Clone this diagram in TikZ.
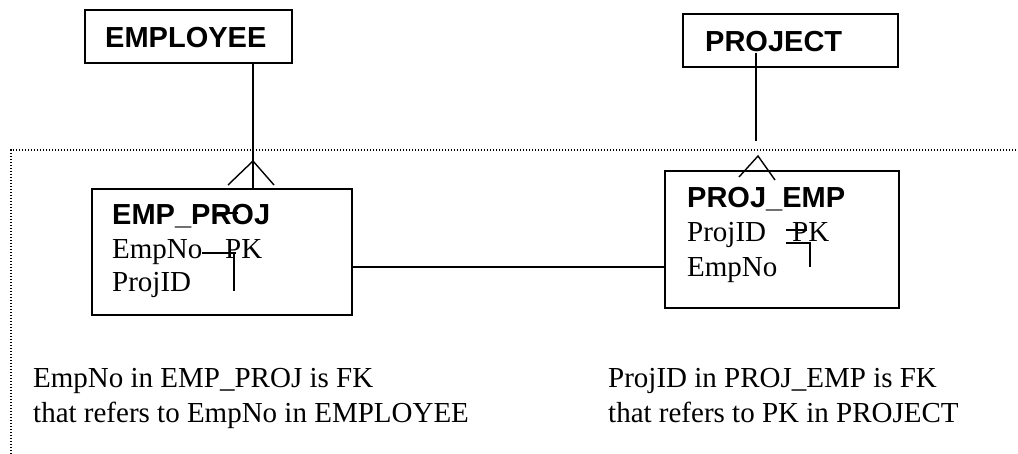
\documentclass[tikz,border=0pt]{standalone}
\usepackage{fontspec}
\setmainfont{Liberation Serif}
\setsansfont{Liberation Sans}
\begin{document}
\begin{tikzpicture}[x=1pt,y=-1pt,
  box/.style={draw,line width=1.8pt,rectangle,inner sep=0pt},
  line/.style={line width=1.4pt},
  frame/.style={line width=1.1pt,dash pattern=on 1.2pt off 1.8pt},
  title/.style={anchor=base west,inner sep=0pt,font=\fontsize{29}{34}\selectfont\sffamily\bfseries},
  attr/.style={anchor=base west,inner sep=0pt,font=\fontsize{29}{34}\selectfont}]
\useasboundingbox (0,0) rectangle (1018,454);
% dotted frame
\draw[frame] (11,454) -- (11,150) -- (1018,150);
% boxes
\node[box,minimum width=207pt,minimum height=53pt] (emp) at (188.5,36.5) {};
\node[box,minimum width=215pt,minimum height=53pt] (proj) at (790.5,40.5) {};
\node[box,minimum width=260pt,minimum height=126pt] (ep) at (222,252) {};
\node[box,minimum width=234pt,minimum height=137pt] (pe) at (782,239.5) {};
% titles
\node[title] (tEmp) at (105,48) {EMPLOYEE};
\node[title] (tProj) at (705,52) {PROJECT};
\node[title] (tEP) at (112,225) {EMP\_PROJ};
\node[title] (tPE) at (687,208) {PROJ\_EMP};
% attributes
\node[attr] (a1) at (112,259) {EmpNo};
\node[attr] (a1pk) at (225,259) {PK};
\node[attr] (a2) at (112,292) {ProjID};
\node[attr] (b1) at (687,242) {ProjID};
\node[attr] (b1pk) at (792,242) {PK};
\node[attr] (b2) at (687,277) {EmpNo};
% stray stroke and PK marks
\draw[line] (217,213) -- (238,213);
\draw[line] (202,253) -- (236,253);
\draw[line] (234,253) -- (234,291);
\draw[line] (786,230) -- (807,230);
\draw[line] (786,243) -- (810,243) -- (810,267);
% EMPLOYEE -- EMP_PROJ (crow's foot)
\draw[line] (emp.south -| 253,0) -- (ep.north -| 253,0);
\coordinate (cfA) at (253,161);
\draw[line] (228,185) -- (cfA) -- (274,185);
% PROJECT -- PROJ_EMP
\coordinate (pTop) at (756,53);
\coordinate (pBot) at (756,141);
\draw[line] (pTop) -- (pBot);
\coordinate (cfB) at (758,156);
\draw[line] (739,177) -- (cfB) -- (775,180);
% EMP_PROJ -- PROJ_EMP
\draw[line] (ep.east |- 0,267) -- (pe.west |- 0,267);
% notes
\node[attr] (n1a) at (33,388) {EmpNo in EMP\_PROJ is FK};
\node[attr] (n1b) at (33,423) {that refers to EmpNo in EMPLOYEE};
\node[attr] (n2a) at (608,388) {ProjID in PROJ\_EMP is FK};
\node[attr] (n2b) at (608,423) {that refers to PK in PROJECT};
\end{tikzpicture}
\end{document}
